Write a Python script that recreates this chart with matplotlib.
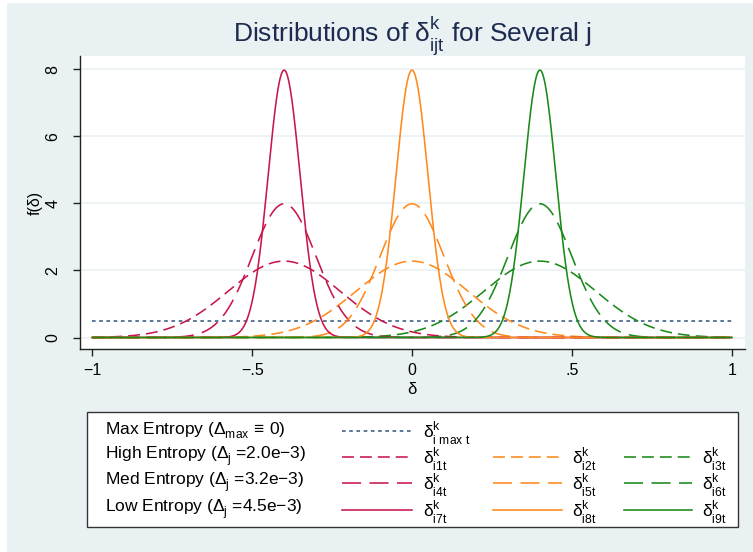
import numpy as np
import matplotlib
matplotlib.use("Agg")
import matplotlib.pyplot as plt
from matplotlib.lines import Line2D
from matplotlib.patches import Rectangle
try:
    import matplotlib._mathtext as _mt
    _mt.FontConstantsBase.sup1 = 0.85
    _mt.FontConstantsBase.sub1 = 0.55
    _mt.FontConstantsBase.sub2 = 0.75
except Exception:
    pass

# ---------------- data ----------------
# each curve is a normal density f(δ) with the centre and spread
centers = [-0.4, 0.0, 0.4]                  # j groups (red, orange, green)
sd_high = 0.175                              # High entropy (peak ≈ 2.28)
sd_med = 0.10                                # Med entropy (peak ≈ 4.0)
sd_low = 0.05                                # Low entropy (peak ≈ 7.98)
entropy_sds = [sd_high, sd_med, sd_low]
max_entropy_level = 0.5                      # uniform density on [-1, 1]
x_range = [-1.0, 1.0]
xticks = [-1, -0.5, 0, 0.5, 1]
xtick_labels = ["\u22121", "\u2212.5", "0", ".5", "1"]
yticks = [0, 2, 4, 6, 8]
row_labels = [r"Max Entropy ($\Delta_{max}$$\,\equiv\,$0)",
              r"High Entropy ($\Delta_{j}$ =2.0e$-$3)",
              r"Med Entropy ($\Delta_{j}$ =3.2e$-$3)",
              r"Low Entropy ($\Delta_{j}$ =4.5e$-$3)"]
max_label = r"$\delta^{k}_{i\ max\ t}$"
series_labels = [[r"$\delta^{k}_{i1t}$", r"$\delta^{k}_{i2t}$", r"$\delta^{k}_{i3t}$"],
                 [r"$\delta^{k}_{i4t}$", r"$\delta^{k}_{i5t}$", r"$\delta^{k}_{i6t}$"],
                 [r"$\delta^{k}_{i7t}$", r"$\delta^{k}_{i8t}$", r"$\delta^{k}_{i9t}$"]]

# ---------------- style ----------------
plt.rcParams['font.family'] = ['Liberation Sans', 'DejaVu Sans']
plt.rcParams['mathtext.fontset'] = 'custom'
plt.rcParams['mathtext.rm'] = 'Liberation Sans'
plt.rcParams['mathtext.it'] = 'Liberation Sans'
plt.rcParams['mathtext.bf'] = 'Liberation Sans:bold'
plt.rcParams['mathtext.sf'] = 'Liberation Sans'
plt.rcParams['mathtext.default'] = 'regular'
plt.rcParams['lines.scale_dashes'] = False

BG = '#EAF1F3'
colors = ['#C8174A', '#FF8A1C', '#1A8A1A']
dot_color = '#3F5F8A'
dash_styles = [(0, (8.6, 4.3)), (0, (13.7, 6.1)), '-']
lw = 1.15

W, H = 753, 552
fig = plt.figure(figsize=(W / 100, H / 100), dpi=100, facecolor='white')
fig.add_artist(Rectangle((7 / W, 0), 1, 1 - 3 / H, transform=fig.transFigure,
                         facecolor=BG, edgecolor='none', zorder=-10))

ax = fig.add_axes([80 / W, 1 - 349 / H, 665 / W, 293 / H])
ax.set_facecolor('white')

x = np.linspace(x_range[0], x_range[1], 2001)
ax.plot(x_range, [max_entropy_level, max_entropy_level], color=dot_color, lw=1.2,
        linestyle=(0, (2.6, 2.6)), zorder=2)
z = 3
for si, sd in enumerate(entropy_sds):
    for ci, mu in enumerate(centers):
        y = np.exp(-0.5 * ((x - mu) / sd) ** 2) / (sd * np.sqrt(2 * np.pi))
        ax.plot(x, y, color=colors[ci], lw=lw, linestyle=dash_styles[si], zorder=z)
        z += 1

ax.set_xlim(-1.0385, 1.0416)
ax.set_ylim(-0.343, 8.40)
ax.set_xticks(xticks)
ax.set_xticklabels(xtick_labels)
ax.set_yticks(yticks)
ax.set_yticklabels([str(v) for v in yticks], rotation=90, va='center')
ax.grid(axis='y', color=BG, lw=1.2, zorder=0)
ax.set_axisbelow(True)
for s in ['top', 'right']:
    ax.spines[s].set_visible(False)
for s in ['left', 'bottom']:
    ax.spines[s].set_color('#222222')
    ax.spines[s].set_linewidth(1.0)
ax.tick_params(axis='both', direction='out', length=5, width=1, color='#222222',
               labelsize=11.5, labelcolor='black')
ax.tick_params(axis='y', pad=9)
ax.tick_params(axis='x', pad=5)

ax.set_ylabel('f(\u03b4)', fontsize=11.5, rotation=90, va='center', ha='center')
ax.yaxis.set_label_coords((35 - 80) / 665, 0.5)
ax.set_xlabel('\u03b4', fontsize=12, va='center', ha='center')
ax.xaxis.set_label_coords(0.4993, (349 - 389) / 293)

fig.text(413 / W, 1 - 37 / H, r"Distributions of $\delta^{k}_{ijt}$ for Several j",
         ha='center', va='center', fontsize=19, color='#1C2B4F')

# ---------------- legend ----------------
fig.add_artist(Rectangle((87 / W, 1 - 527 / H), 651 / W, 115 / H, transform=fig.transFigure,
                         facecolor='white', edgecolor='#333333', lw=1.0, zorder=5))
row_y = [431, 457, 483, 510]
fs = 12.5
for r, lab in enumerate(row_labels):
    fig.text(105 / W, 1 - row_y[r] / H, lab, ha='left', va='center', fontsize=fs, zorder=6)

col_line = [(342, 412), (493, 562), (624, 692)]
col_text = [423, 572, 702]

fig.add_artist(Line2D([col_line[0][0] / W, col_line[0][1] / W],
                      [1 - row_y[0] / H, 1 - row_y[0] / H], transform=fig.transFigure,
                      color=dot_color, lw=1.2, linestyle=(0, (2.6, 2.6)), zorder=6))
fig.text(col_text[0] / W, 1 - (row_y[0] + 2) / H, max_label, ha='left', va='center',
         fontsize=fs, zorder=6)

for si in range(3):
    yy = 1 - row_y[si + 1] / H
    for ci in range(3):
        x0, x1 = col_line[ci]
        fig.add_artist(Line2D([x0 / W, x1 / W], [yy, yy], transform=fig.transFigure,
                              color=colors[ci], lw=lw, linestyle=dash_styles[si], zorder=6))
        fig.text(col_text[ci] / W, 1 - (row_y[si + 1] + 2) / H, series_labels[si][ci],
                 ha='left', va='center', fontsize=fs, zorder=6)

fig.savefig('out.png', dpi=100, facecolor=fig.get_facecolor())
